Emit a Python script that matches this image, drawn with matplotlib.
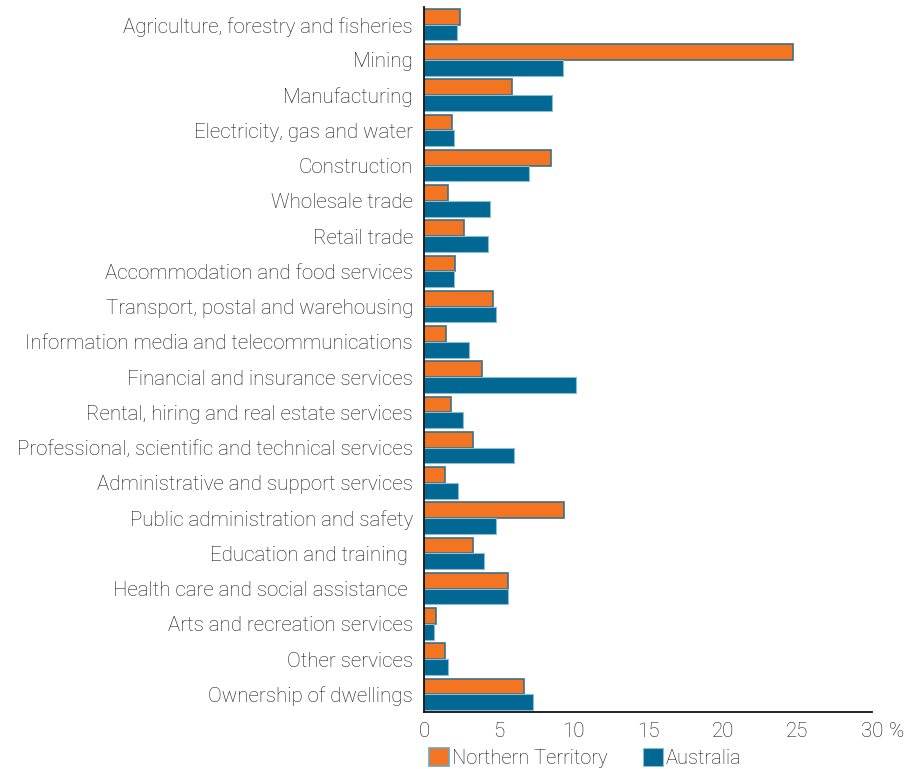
import matplotlib
matplotlib.use("Agg")
from matplotlib import pyplot as plt
from matplotlib.patches import Patch
import numpy as np


# ------------- Data ---------------

industries = [
	"Agriculture, forestry and fisheries",
	"Mining",
	"Manufacturing",
	"Electricity, gas and water",
	"Construction",
	"Wholesale trade",
	"Retail trade",
	"Accommodation and food services",
	"Transport, postal and warehousing",
	"Information media and telecommunications",
	"Financial and insurance services",
	"Rental, hiring and real estate services",
	"Professional, scientific and technical services",
	"Administrative and support services",
	"Public administration and safety",
	"Education and training ",
	"Health care and social assistance ",
	"Arts and recreation services",
	"Other services",
	"Ownership of dwellings",
]

# share of gross value added, per cent
nt_share = [2.4, 24.7, 5.9, 1.9, 8.5, 1.6, 2.7, 2.1, 4.6, 1.5,
	3.9, 1.8, 3.3, 1.4, 9.4, 3.3, 5.6, 0.8, 1.4, 6.7]
aus_share = [2.2, 9.3, 8.6, 2.0, 7.0, 4.4, 4.3, 2.0, 4.8, 3.0,
	10.2, 2.6, 6.0, 2.3, 4.8, 4.0, 5.6, 0.7, 1.6, 7.3]

x_ticks = [0, 5, 10, 15, 20, 25, 30]
x_tick_labels = ["0", "5", "10", "15", "20", "25", "30"]

series_names = ["Northern Territory", "Australia"]


# ------------- Style ---------------

ORANGE = "#f37421"
BLUE = "#006892"
TEXT = "#1a1718"
FS = 14.8
LEG_FS = 14.5

plt.rcParams['font.family'] = ['Roboto', 'DejaVu Sans']
plt.rcParams['font.weight'] = 'light'
plt.rcParams['font.size'] = FS


# ------------- Plot ---------------

fig = plt.figure(figsize=(9.2, 7.69), dpi=100)
ax = fig.add_axes([424 / 920, 1 - 712 / 769, (872 - 424) / 920, (712 - 7) / 769])

pos = np.arange(len(industries))
h = 0.45

ax.barh(pos - h / 2, nt_share, height=h, color=ORANGE,
	edgecolor="#3d7088", linewidth=1.2)
ax.barh(pos + h / 2, aus_share, height=h, color=BLUE,
	edgecolor="#8fbad0", linewidth=0.8)

ax.set_ylim(len(industries) - 0.5, -0.5)
ax.set_xlim(0, 29.65)

ax.set_yticks(pos)
ax.set_yticklabels(industries, color=TEXT)
ax.set_xticks(x_ticks)
ax.set_xticklabels(x_tick_labels, color=TEXT)
ax.tick_params(axis='y', length=0, pad=8)
ax.tick_params(axis='x', length=0, pad=7)

# unit sign next to the last tick label
ax.annotate("%", xy=(30, 0), xycoords=('data', 'axes fraction'),
	xytext=(12, -7), textcoords='offset points',
	ha='left', va='top', color=TEXT, fontsize=FS)

for side in ["top", "right"]:
	ax.spines[side].set_visible(False)
for side in ["left", "bottom"]:
	ax.spines[side].set_color("#111111")
	ax.spines[side].set_linewidth(1.3)

handles = [
	Patch(facecolor=ORANGE, edgecolor="#6fa3c0", linewidth=1.2),
	Patch(facecolor=BLUE, edgecolor="#8fbad0", linewidth=0.8),
]
fig.legend(handles, series_names, loc='lower left',
	bbox_to_anchor=(429 / 920, 1 / 769), ncol=2, frameon=False,
	handlelength=0.99, handleheight=0.99, handletextpad=0.15,
	columnspacing=1.75, borderaxespad=0, borderpad=0, fontsize=LEG_FS,
	labelcolor=TEXT)

fig.savefig("out.png", dpi=100)
